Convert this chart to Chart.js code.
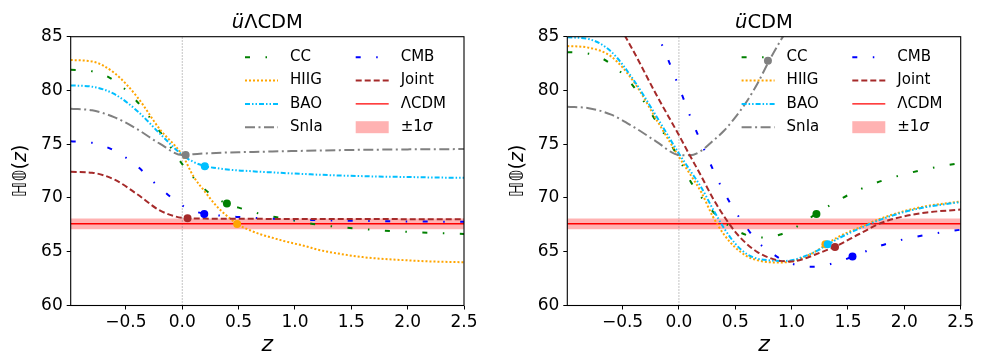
<!DOCTYPE html>
<html><head><meta charset="utf-8">
<script src="https://cdn.jsdelivr.net/npm/chart.js@4.4.1/dist/chart.umd.min.js"></script>
<style>
html,body{margin:0;padding:0;background:#fff;}
#wrap{position:relative;width:988px;height:356px;background:#fff;}
.panel{position:absolute;top:0;width:494px;height:356px;}
canvas{display:block;}
</style></head><body>
<div id="wrap">
<div class="panel" style="left:0"><canvas id="c1" width="494" height="356"></canvas></div>
<div class="panel" style="left:494px"><canvas id="c2" width="494" height="356"></canvas></div>
</div>
<script>
// ---------- data ----------
const zGrid = [-0.99,-0.8,-0.6,-0.4,-0.2,0,0.1,0.2,0.3,0.4,0.5,0.6,0.7,0.8,0.9,1.0,1.1,1.2,1.4,1.6,1.8,2.0,2.2,2.5];

// left panel (uLambdaCDM)
const ccL    = [81.92,81.78,80.9,78.95,76.2,73.15,71.9,70.8,70.0,69.45,69.1,68.8,68.5,68.28,68.1,67.88,67.7,67.53,67.29,67.11,66.96,66.85,66.76,66.66];
const hiigL  = [82.83,82.7,81.6,79.4,76.4,74.0,72.0,70.6,69.3,68.3,67.5,67.0,66.6,66.3,66.0,65.75,65.5,65.2,64.8,64.5,64.32,64.2,64.1,64.02];
const baoL   = [80.47,80.35,79.65,78.1,76.0,74.0,73.35,72.96,72.78,72.65,72.56,72.5,72.43,72.38,72.32,72.27,72.22,72.17,72.09,72.03,71.98,71.95,71.91,71.87];
const snL    = [78.3,78.15,77.5,76.4,75.05,74.0,74.07,74.14,74.19,74.23,74.26,74.28,74.3,74.33,74.35,74.37,74.39,74.41,74.45,74.48,74.5,74.52,74.53,74.55];
const cmbL   = [75.27,75.13,74.4,72.95,70.95,69.3,68.8,68.52,68.4,68.3,68.23,68.17,68.12,68.07,68.03,68.0,67.97,67.94,67.89,67.86,67.84,67.82,67.8,67.78];
const jointL = [72.43,72.35,71.7,70.35,68.85,68.15,68.1,68.08,68.07,68.07,68.06,68.06,68.06,68.05,68.05,68.05,68.05,68.05,68.04,68.04,68.04,68.03,68.03,68.03];

// right panel (uCDM)
const ccR    = [83.56,83.42,82.45,80.34,77.1,73.7,71.6,70.05,68.75,67.75,67.05,66.55,66.33,66.32,66.6,67.05,67.68,68.4,69.7,70.77,71.6,72.2,72.7,73.27];
const hiigR  = [84.13,83.98,83.15,80.8,77.3,73.83,72.2,70.5,68.3,66.6,65.4,64.6,64.2,64.03,64.0,64.1,64.45,64.95,66.3,67.25,68.12,68.78,69.25,69.68];
const baoR   = [84.94,84.78,83.6,80.95,77.6,74.14,72.55,70.95,69.0,67.2,65.75,64.8,64.35,64.2,64.14,64.2,64.52,64.95,66.15,67.16,68.03,68.7,69.17,69.62];
const snR    = [78.48,78.35,77.75,76.6,75.25,74.0,73.97,74.4,75.3,76.25,77.5,78.95,80.7,82.75,84.6,86.3,88.0,null,null,null,null,null,null,null];
const cmbR   = [null,null,null,89.0,85.4,80.34,77.6,75.1,72.7,70.55,68.75,67.25,65.9,65.05,64.35,63.9,63.65,63.6,64.02,64.8,65.6,66.17,66.58,67.05];
const jointR = [null,null,87.3,83.6,79.6,75.85,73.9,72.0,70.0,68.3,66.85,65.75,64.95,64.45,64.15,64.1,64.3,64.7,65.55,66.65,67.7,68.3,68.65,68.93];

// transition markers (z, H) in order CC, HIIG, BAO, SnIa, CMB, Joint
const markZL = [0.396, 0.487, 0.20, 0.03, 0.195, 0.047];
const markHL = [69.49, 67.59, 72.96, 74.0, 68.52, 68.12];
const markZR = [1.22, 1.30, 1.32, 0.79, 1.54, 1.385];
const markHR = [68.52, 65.7, 65.7, 82.77, 64.55, 65.45];

// LambdaCDM reference
const lcdmH = 67.6;
const lcdmSigma = 0.5;

const xTicks = [-0.5, 0.0, 0.5, 1.0, 1.5, 2.0, 2.5];
const yTicks = [60, 65, 70, 75, 80, 85];
const xRange = [-0.99, 2.5];
const yRange = [60, 85];

const seriesLabels = ['CC','HIIG','BAO','SnIa','CMB','Joint','ΛCDM','±1σ'];
const seriesColors = ['#008000','#FFA500','#00BFFF','#808080','#0000FF','#A52A2A','#FF0000','rgba(255,0,0,0.3)'];
const seriesDash = [[5,15.5,1.5,15.5],[2,2],[5,2,1.5,2,1.5,2],[10,3.5,2,3.5],[5,15.5,1.5,15.5],[6,3],[],[]];

// ---------- helpers ----------
const FONT = "'DejaVu Sans', 'Liberation Sans', sans-serif";
function pts(zs, hs){ return zs.map((z,i)=>({x:z, y:hs[i]})); }
function lineDS(idx, hs, order){
  return {type:'line', label:seriesLabels[idx], data:pts(zGrid, hs), borderColor:seriesColors[idx],
    borderWidth:2, borderDash:seriesDash[idx], borderCapStyle:'butt', pointRadius:0, fill:false,
    cubicInterpolationMode:'monotone', clip:0, order:order, spanGaps:false};
}
function fmt(v){ return (v<0?'\u2212':'') + Math.abs(v).toFixed(1); }

const decor = {
  id:'decor',
  afterDatasetsDraw(chart, args, o){
    const ctx = chart.ctx, ca = chart.chartArea;
    ctx.save();
    // frame
    ctx.strokeStyle = '#000'; ctx.lineWidth = 1.1; ctx.setLineDash([]);
    ctx.strokeRect(ca.left, ca.top, ca.right-ca.left, ca.bottom-ca.top);
    // legend
    const cols = [[0,1,2,3],[4,5,6,7]];
    const colX = [ca.left+174.3, ca.left+285];
    ctx.textBaseline = 'middle'; ctx.textAlign = 'left'; ctx.fillStyle = '#000';
    cols.forEach((col,ci)=>{
      col.forEach((si,ri)=>{
        const y = ca.top + 20.6 + ri*23.3, x = colX[ci];
        if (si === 7) {
          ctx.fillStyle = seriesColors[7];
          ctx.fillRect(x, y-6, 33, 12);
        } else {
          ctx.beginPath();
          ctx.strokeStyle = seriesColors[si];
          ctx.lineWidth = si===6 ? 1.4 : 2;
          ctx.setLineDash(seriesDash[si]);
          ctx.moveTo(x, y); ctx.lineTo(x+33, y); ctx.stroke();
          ctx.setLineDash([]);
        }
        ctx.fillStyle = '#000';
        const tx = x + 45;
        if (si === 7) {
          ctx.font = '15px ' + FONT;
          ctx.fillText('±1', tx, y);
          const w = ctx.measureText('±1').width;
          ctx.font = 'italic 15px ' + FONT;
          ctx.fillText('σ', tx + w, y);
        } else {
          ctx.font = '15px ' + FONT;
          ctx.fillText(seriesLabels[si], tx, y);
        }
      });
    });
    // title
    const cx = (ca.left+ca.right)/2;
    ctx.textBaseline = 'alphabetic';
    ctx.font = 'italic 19.5px ' + FONT;
    const w1 = ctx.measureText('ü').width;
    ctx.font = '19.5px ' + FONT;
    const w2 = ctx.measureText(o.title).width;
    let sx = cx - (w1+w2)/2;
    ctx.font = 'italic 19.5px ' + FONT; ctx.fillText('ü', sx, 27.5);
    ctx.font = '19.5px ' + FONT; ctx.fillText(o.title, sx + w1, 27.5);
    // x label
    ctx.font = 'italic 22px ' + FONT; ctx.textAlign = 'center';
    ctx.fillText('z', cx, 351);
    // y label (rotated)
    ctx.translate(o.ylabX, (ca.top+ca.bottom)/2);
    ctx.rotate(-Math.PI/2);
    ctx.textAlign = 'left';
    ctx.font = '19px ' + FONT;
    const a = 'ℍ𝟘(', wa = ctx.measureText(a).width;
    ctx.font = 'italic 19px ' + FONT;
    const wz = ctx.measureText('z').width;
    ctx.font = '19px ' + FONT;
    const wc = ctx.measureText(')').width;
    const tot = wa + wz + wc;
    ctx.fillText(a, -tot/2, 7);
    ctx.font = 'italic 19px ' + FONT; ctx.fillText('z', -tot/2 + wa, 7);
    ctx.font = '19px ' + FONT; ctx.fillText(')', -tot/2 + wa + wz, 7);
    ctx.restore();
  }
};

function makeChart(id, d, title, yW, padR, ylabX){
  const mk = d.mz.map((z,i)=>({x:z, y:d.mh[i]}));
  const mc = [seriesColors[0],seriesColors[1],seriesColors[2],seriesColors[3],seriesColors[4],seriesColors[5]];
  const datasets = [
    {type:'scatter', label:'markers', data:mk, pointRadius:4, pointHoverRadius:4, pointBackgroundColor:mc, pointBorderColor:mc, pointBorderWidth:0, showLine:false, order:0, clip:0},
    lineDS(0, d.cc, 6), lineDS(1, d.hiig, 5), lineDS(2, d.bao, 4), lineDS(3, d.sn, 3), lineDS(4, d.cmb, 2), lineDS(5, d.joint, 1),
    {type:'line', label:'ΛCDM', data:pts(xRange, [lcdmH, lcdmH]), borderColor:seriesColors[6], borderWidth:1.4, pointRadius:0, fill:false, order:7},
    {type:'line', label:'±1σ', data:pts(xRange, [lcdmH+lcdmSigma, lcdmH+lcdmSigma]), borderWidth:0, borderColor:'rgba(0,0,0,0)', pointRadius:0, fill:{value: lcdmH-lcdmSigma}, backgroundColor:seriesColors[7], order:9},
    {type:'line', label:'z0', data:pts([0,0], yRange), borderColor:'rgba(110,110,110,0.9)', borderWidth:0.9, borderDash:[1,2], pointRadius:0, fill:false, order:8}
  ];
  const tickFont = {family: FONT, size: 17};
  const grid = {drawOnChartArea:false, drawTicks:true, tickLength:4, color:'#000', lineWidth:1};
  return new Chart(document.getElementById(id), {
    type:'line',
    data:{datasets},
    options:{
      responsive:false, animation:false, events:[],
      layout:{padding:{left:0, top:36.7, right:padR, bottom:0}},
      plugins:{legend:{display:false}, tooltip:{enabled:false}, title:{display:false}, decor:{title, ylabX}},
      scales:{
        x:{type:'linear', min:xRange[0], max:xRange[1],
           afterBuildTicks:s=>{ s.ticks = xTicks.map(v=>({value:v})); },
           afterFit:s=>{ s.height = 50.5; },
           ticks:{callback:v=>fmt(v), font:tickFont, color:'#000', padding:3, maxRotation:0, autoSkip:false},
           grid, border:{display:false}},
        y:{type:'linear', min:yRange[0], max:yRange[1],
           afterBuildTicks:s=>{ s.ticks = yTicks.map(v=>({value:v})); },
           afterFit:s=>{ s.width = yW; },
           ticks:{font:tickFont, color:'#000', padding:4, autoSkip:false},
           grid, border:{display:false}}
      }
    },
    plugins:[decor]
  });
}

makeChart('c1', {cc:ccL, hiig:hiigL, bao:baoL, sn:snL, cmb:cmbL, joint:jointL, mz:markZL, mh:markHL}, 'ΛCDM', 70.7, 30, 19);
makeChart('c2', {cc:ccR, hiig:hiigR, bao:baoR, sn:snR, cmb:cmbR, joint:jointR, mz:markZR, mh:markHR}, 'CDM', 73.3, 27.3, 21.5);
</script>
</body></html>
